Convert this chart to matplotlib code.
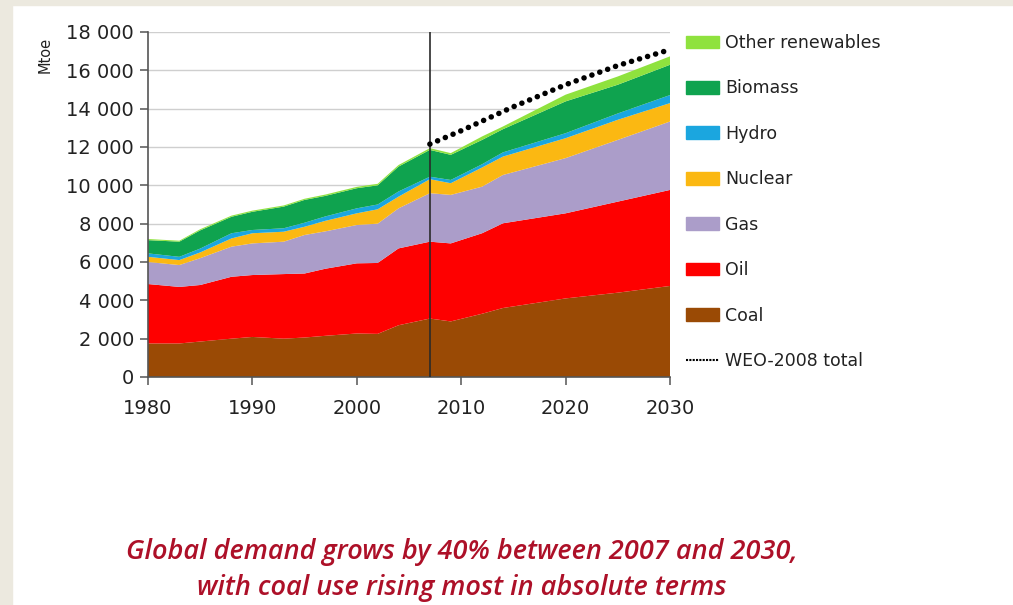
import matplotlib
matplotlib.use("Agg")
import matplotlib.pyplot as plt
from matplotlib.patches import Patch, Rectangle
from matplotlib.lines import Line2D
from matplotlib.ticker import FuncFormatter
import numpy as np

# data (Mtoe), per fuel, stacked bottom -> top
years = [1980, 1983, 1985, 1988, 1990, 1993, 1995, 1997, 2000, 2002, 2004,
         2007, 2009, 2012, 2014, 2020, 2025, 2030]
coal = [1750, 1750, 1850, 2000, 2090, 2000, 2060, 2150, 2270, 2250, 2700,
        3050, 2900, 3300, 3600, 4100, 4400, 4750]
oil = [3100, 2950, 2950, 3230, 3230, 3370, 3340, 3500, 3660, 3700, 4010,
       4010, 4070, 4200, 4420, 4440, 4750, 5010]
gas = [1150, 1140, 1400, 1570, 1650, 1690, 2010, 1950, 2000, 2050, 2090,
       2530, 2530, 2430, 2520, 2880, 3220, 3570]
nuclear = [270, 260, 300, 430, 530, 520, 430, 550, 610, 750, 610,
           730, 610, 1000, 960, 1040, 1050, 960]
hydro = [180, 170, 200, 270, 170, 180, 210, 230, 260, 250, 270,
         130, 170, 170, 220, 260, 330, 420]
biomass = [690, 790, 950, 860, 950, 1130, 1190, 1070, 1050, 1000, 1300,
           1400, 1310, 1270, 1210, 1660, 1500, 1580]
other_ren = [60, 50, 60, 60, 60, 60, 60, 70, 70, 80, 80,
             90, 90, 180, 140, 350, 430, 440]

weo_years = [2007, 2010, 2015, 2020, 2025, 2030]
weo_total = [12150, 12850, 14100, 15250, 16250, 17080]

labels = ["Coal", "Oil", "Gas", "Nuclear", "Hydro", "Biomass", "Other renewables"]
colors = ["#9a4a05", "#fe0000", "#ab9dc9", "#fbb812", "#1ba6df", "#0fa34f", "#8fe23e"]

plt.rcParams["font.family"] = ["DejaVu Sans"]

fig = plt.figure(figsize=(10.13, 6.05), dpi=100)
fig.patch.set_facecolor("white")
# beige frame strips on the left and top edge
fig.patches.append(Rectangle((0, 0), 12 / 1013, 1, transform=fig.transFigure,
                             color="#ece9df", zorder=0))
fig.patches.append(Rectangle((0, 1 - 5 / 605), 1, 5 / 605, transform=fig.transFigure,
                             color="#ece9df", zorder=0))

ax = fig.add_axes([148 / 1013, 1 - 377 / 605, (670 - 148) / 1013, (377 - 32) / 605])

ax.stackplot(years, coal, oil, gas, nuclear, hydro, biomass, other_ren,
             colors=colors, linewidth=0, zorder=2)
ax.plot(weo_years, weo_total, color="black", linewidth=4,
        linestyle=(0, (0.01, 1.5)), dash_capstyle="round", zorder=4)
ax.axvline(2007, color="#2a2a2a", linewidth=1.2, zorder=3)

ax.set_xlim(1980, 2030)
ax.set_ylim(0, 18000)
ax.set_xticks([1980, 1990, 2000, 2010, 2020, 2030])
ax.set_yticks(np.arange(0, 18001, 2000))
ax.yaxis.set_major_formatter(FuncFormatter(lambda v, p: f"{int(v):,}".replace(",", " ")))
ax.grid(axis="y", color="#cfcfcf", linewidth=1, zorder=0)
ax.set_axisbelow(True)

for s in ["top", "right"]:
    ax.spines[s].set_visible(False)
for s in ["left", "bottom"]:
    ax.spines[s].set_color("#555555")
    ax.spines[s].set_linewidth(1.2)
ax.tick_params(axis="both", direction="out", length=6, width=1.1, color="#555555",
               labelsize=14, labelcolor="#222222", pad=4)
ax.tick_params(axis="x", pad=10)

fig.text(45 / 1013, 1 - 55 / 605, "Mtoe", rotation=90, ha="center", va="center",
         fontsize=10.5, color="#222222")

handles = [Patch(color=c) for c in colors[::-1]]
handles.append(Line2D([0], [0], color="black", linewidth=1.5, linestyle=(0, (1, 0.6))))
leg_labels = labels[::-1] + ["WEO-2008 total"]
leg = fig.legend(handles, leg_labels, loc="upper left",
                 bbox_to_anchor=(686 / 1013, 1 - 34 / 605), frameon=False,
                 fontsize=12.5, handlelength=1.9, handleheight=0.75,
                 handletextpad=0.35, labelspacing=1.58, borderpad=0, borderaxespad=0)
for t in leg.get_texts():
    t.set_color("#222222")

fig.text(462 / 1013, 1 - 552 / 605, "Global demand grows by 40% between 2007 and 2030,",
         ha="center", va="center", fontsize=19.5, style="italic", weight="semibold",
         color="#ad1028", family=["Open Sans", "DejaVu Sans"])
fig.text(462 / 1013, 1 - 588 / 605, "with coal use rising most in absolute terms",
         ha="center", va="center", fontsize=19.5, style="italic", weight="semibold",
         color="#ad1028", family=["Open Sans", "DejaVu Sans"])

fig.savefig("out.png", dpi=100)
